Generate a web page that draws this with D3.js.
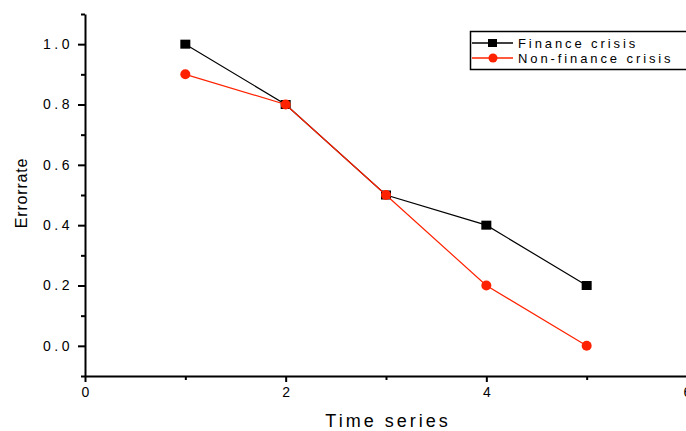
<!DOCTYPE html>
<html>
<head>
<meta charset="utf-8">
<script src="https://cdn.jsdelivr.net/npm/d3@7"></script>
<style>
  body { margin: 0; background: #fff; }
  svg { display: block; font-family: "Liberation Sans", Arial, sans-serif; }
  .tick-label { font-size: 14px; letter-spacing: 3.5px; fill: #000; }
</style>
</head>
<body>
<svg id="chart" width="686" height="431"></svg>
<script>
const timePoints = [1, 2, 3, 4, 5];
const financeCrisis = [1.0, 0.8, 0.5, 0.4, 0.2];
const nonFinanceCrisis = [0.9, 0.8, 0.5, 0.2, 0.0];
const xTicks = [0, 2, 4, 6];
const xMinorTicks = [1, 3, 5];
const yTicks = [0.0, 0.2, 0.4, 0.6, 0.8, 1.0];
const yMinorTicks = [-0.1, 0.1, 0.3, 0.5, 0.7, 0.9, 1.1];
const seriesNames = ["Finance crisis", "Non-finance crisis"];

const svg = d3.select("#chart");
const x = d3.scaleLinear().domain([0, 6]).range([85, 687]);
const y = d3.scaleLinear().domain([-0.1, 1.1]).range([376, 14]);

// minor ticks first, then the axes on top
svg.append("g")
  .attr("transform", `translate(${x(0)},0)`)
  .call(d3.axisLeft(y).tickValues(yMinorTicks).tickSize(4).tickFormat(""))
  .call((g) => g.select(".domain").remove())
  .selectAll("line").attr("stroke-width", 2);

svg.append("g")
  .attr("transform", `translate(0,${y(-0.1)})`)
  .call(d3.axisBottom(x).tickValues(xMinorTicks).tickSize(4).tickFormat(""))
  .call((g) => g.select(".domain").remove())
  .selectAll("line").attr("stroke-width", 2);

const yAxis = svg.append("g")
  .attr("transform", `translate(${x(0)},0)`)
  .call(d3.axisLeft(y).tickValues(yTicks).tickSize(7).tickSizeOuter(0).tickPadding(5)
    .tickFormat(d3.format(".1f")));

const xAxis = svg.append("g")
  .attr("transform", `translate(0,${y(-0.1)})`)
  .call(d3.axisBottom(x).tickValues(xTicks).tickSize(6).tickSizeOuter(0).tickPadding(5)
    .tickFormat(d3.format("d")));

[yAxis, xAxis].forEach((g) => {
  g.select(".domain").attr("stroke-width", 2);
  g.selectAll(".tick line").attr("stroke-width", 2);
  g.selectAll(".tick text").attr("class", "tick-label").attr("font-family", null).attr("font-size", null);
});
xAxis.selectAll(".tick text").attr("dx", 1.75);

// axis titles
svg.append("text")
  .attr("x", 388)
  .attr("y", 427)
  .attr("text-anchor", "middle")
  .attr("font-size", 18)
  .attr("letter-spacing", 3)
  .text("Time series");

svg.append("text")
  .attr("transform", "translate(27,193) rotate(-90)")
  .attr("text-anchor", "middle")
  .attr("font-size", 16)
  .attr("letter-spacing", 0.8)
  .text("Errorrate");

const line = d3.line().x((d) => x(d[0])).y((d) => y(d[1]));
const financeData = timePoints.map((t, i) => [t, financeCrisis[i]]);
const nonFinanceData = timePoints.map((t, i) => [t, nonFinanceCrisis[i]]);

const black = "#000";
const red = "#ff2200";

svg.append("path").datum(financeData)
  .attr("fill", "none").attr("stroke", black).attr("stroke-width", 1.2).attr("d", line);

svg.append("g").selectAll("rect").data(financeData).join("rect")
  .attr("x", (d) => x(d[0]) - 5)
  .attr("y", (d) => y(d[1]) - 4.5)
  .attr("width", 10).attr("height", 9)
  .attr("fill", black);

svg.append("path").datum(nonFinanceData)
  .attr("fill", "none").attr("stroke", red).attr("stroke-width", 1.2).attr("d", line);

svg.append("g").selectAll("circle").data(nonFinanceData).join("circle")
  .attr("cx", (d) => x(d[0]))
  .attr("cy", (d) => y(d[1]))
  .attr("r", 5)
  .attr("fill", red);

// legend
const legend = svg.append("g");
legend.append("rect")
  .attr("x", 470.5).attr("y", 31.5).attr("width", 220).attr("height", 38)
  .attr("fill", "#fff").attr("stroke", "#000").attr("stroke-width", 1.5);

const legendRows = [
  { name: seriesNames[0], color: black, shape: "square", ly: 43 },
  { name: seriesNames[1], color: red, shape: "circle", ly: 58 },
];
legendRows.forEach((row) => {
  legend.append("line")
    .attr("x1", 472).attr("x2", 513).attr("y1", row.ly).attr("y2", row.ly)
    .attr("stroke", row.color).attr("stroke-width", 1.5);
  if (row.shape === "square") {
    legend.append("rect").attr("x", 488).attr("y", row.ly - 4).attr("width", 9).attr("height", 8).attr("fill", row.color);
  } else {
    legend.append("circle").attr("cx", 493).attr("cy", row.ly).attr("r", 4.5).attr("fill", row.color);
  }
  legend.append("text")
    .attr("x", 518).attr("y", row.ly + 4.5)
    .attr("font-size", 13).attr("letter-spacing", 2.9)
    .text(row.name);
});
</script>
</body>
</html>
